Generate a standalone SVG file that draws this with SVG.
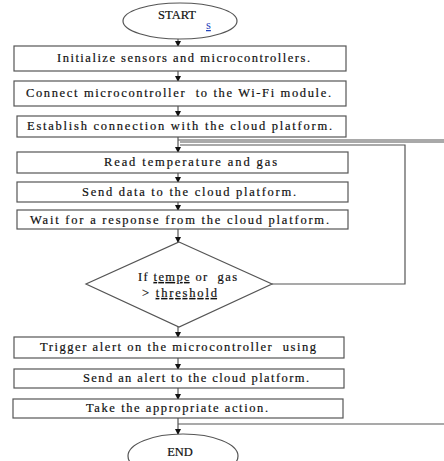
<svg xmlns="http://www.w3.org/2000/svg" width="444" height="461" viewBox="0 0 444 461">
<style>
.box{fill:#fff;stroke:#555;stroke-width:1.2}
.ln{fill:none;stroke:#555;stroke-width:1.2}
.t{font-family:"Liberation Serif","Times New Roman",serif;font-size:12.5px;fill:#111;stroke:#111;stroke-width:0.2}
.c{text-anchor:middle}
</style>
<defs>
<marker id="ah" markerWidth="6" markerHeight="6" refX="5" refY="3" orient="auto" markerUnits="userSpaceOnUse">
<path d="M0,0 L6,3 L0,6 Z" fill="#111"/>
</marker>
</defs>
<rect width="444" height="461" fill="#fff"/>
<g id="connectors">
<line class="ln" x1="178" y1="39" x2="178" y2="46" marker-end="url(#ah)"/>
<line class="ln" x1="178" y1="71" x2="178" y2="81" marker-end="url(#ah)"/>
<line class="ln" x1="178" y1="106" x2="178" y2="116" marker-end="url(#ah)"/>
<line class="ln" x1="178" y1="137" x2="178" y2="152" marker-end="url(#ah)"/>
<line class="ln" x1="178" y1="173" x2="178" y2="182" marker-end="url(#ah)"/>
<line class="ln" x1="178" y1="202" x2="178" y2="210" marker-end="url(#ah)"/>
<line class="ln" x1="178" y1="229" x2="178" y2="242" marker-end="url(#ah)"/>
<line class="ln" x1="178" y1="327" x2="178" y2="337" marker-end="url(#ah)"/>
<line class="ln" x1="178" y1="358" x2="178" y2="369" marker-end="url(#ah)"/>
<line class="ln" x1="178" y1="388" x2="178" y2="399" marker-end="url(#ah)"/>
<line class="ln" x1="178" y1="418" x2="178" y2="434" marker-end="url(#ah)"/>
<line class="ln" x1="178" y1="140" x2="444" y2="140"/>
<line class="ln" x1="180" y1="142" x2="444" y2="142" stroke-width="0.8"/>
<polyline class="ln" points="272,284 405,284 405,145 180,145"/>
<line class="ln" x1="178" y1="424" x2="444" y2="424"/>
</g>
<g id="start">
<ellipse class="box" cx="180" cy="21" rx="57" ry="18"/>
<text class="t c" x="177" y="19">START</text>
<text class="t" x="206" y="29" style="fill:#2244bb;stroke:none" text-decoration="underline">s</text>
</g>
<g id="init">
<rect class="box" x="14" y="46" width="332" height="25"/>
<text class="t" x="57" y="62" textLength="253" lengthAdjust="spacing">Initialize sensors and microcontrollers.</text>
</g>
<g id="connect">
<rect class="box" x="14" y="81" width="332" height="25"/>
<text class="t" x="26" y="97" textLength="305" lengthAdjust="spacing" xml:space="preserve">Connect microcontroller  to the Wi-Fi module.</text>
</g>
<g id="establish">
<rect class="box" x="17" y="116" width="329" height="21"/>
<text class="t" x="27" y="130" textLength="305" lengthAdjust="spacing">Establish connection with the cloud platform.</text>
</g>
<g id="read">
<rect class="box" x="17" y="152" width="331" height="21"/>
<text class="t" x="104" y="166" textLength="173" lengthAdjust="spacing">Read temperature and gas</text>
</g>
<g id="send">
<rect class="box" x="17" y="182" width="331" height="20"/>
<text class="t" x="82" y="196" textLength="214" lengthAdjust="spacing">Send data to the cloud platform.</text>
</g>
<g id="wait">
<rect class="box" x="17" y="210" width="331" height="19"/>
<text class="t" x="30" y="224" textLength="299" lengthAdjust="spacing">Wait for a response from the cloud platform.</text>
</g>
<g id="decision">
<polygon class="box" points="179,242 272,284 179,327 86,284"/>
<text class="t" x="138" y="281" textLength="99" lengthAdjust="spacing" xml:space="preserve">If <tspan style="text-decoration:underline wavy #d33">tempe</tspan> or  gas</text>
<text class="t" x="142" y="297" textLength="75" lengthAdjust="spacing">&gt; <tspan style="text-decoration:underline wavy #55e">threshold</tspan></text>
</g>
<g id="trigger">
<rect class="box" x="14" y="337" width="330" height="21"/>
<text class="t" x="40" y="351" textLength="276" lengthAdjust="spacing" xml:space="preserve">Trigger alert on the microcontroller  using</text>
</g>
<g id="sendalert">
<rect class="box" x="14" y="369" width="330" height="19"/>
<text class="t" x="83" y="382" textLength="226" lengthAdjust="spacing">Send an alert to the cloud platform.</text>
</g>
<g id="action">
<rect class="box" x="13" y="399" width="330" height="19"/>
<text class="t" x="86" y="412" textLength="182" lengthAdjust="spacing">Take the appropriate action.</text>
</g>
<g id="end">
<ellipse class="box" cx="183" cy="456" rx="55" ry="22"/>
<text class="t c" x="180" y="456">END</text>
</g>
</svg>
